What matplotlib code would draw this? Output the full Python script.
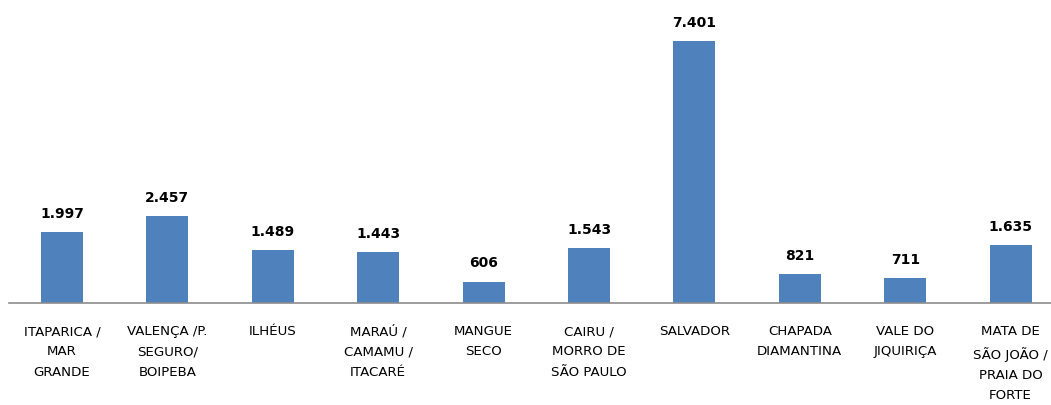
import matplotlib
matplotlib.use("Agg")
import matplotlib.pyplot as plt

categories = ["ITAPARICA /\nMAR\nGRANDE", "VALENÇA /P.\nSEGURO/\nBOIPEBA", "ILHÉUS",
              "MARAÚ /\nCAMAMU /\nITACARÉ", "MANGUE\nSECO", "CAIRU /\nMORRO DE\nSÃO PAULO",
              "SALVADOR", "CHAPADA\nDIAMANTINA", "VALE DO\nJIQUIRIÇA",
              "MATA DE\nSÃO JOÃO /\nPRAIA DO\nFORTE"]
values = [1997, 2457, 1489, 1443, 606, 1543, 7401, 821, 711, 1635]
value_labels = ["1.997", "2.457", "1.489", "1.443", "606", "1.543", "7.401", "821", "711", "1.635"]

W, H = 1051, 405
fig = plt.figure(figsize=(W / 100, H / 100), dpi=100)
left = 9.3 / W
width = 1054 / W
bottom = (H - 303) / H
ax = fig.add_axes([left, bottom, width, 303 / H])

x = list(range(len(values)))
ax.bar(x, values, width=0.4, color="#4f81bd", zorder=2)
ax.set_xlim(-0.5, 9.5)
ax.set_ylim(0, 7401 * 303 / 262)

for xi, v, lab in zip(x, values, value_labels):
    ax.annotate(lab, (xi, v), xytext=(0, 8), textcoords="offset points",
                ha="center", va="bottom", fontsize=10, fontweight="bold", color="#000000")

for s in ["top", "right", "left"]:
    ax.spines[s].set_visible(False)
ax.spines["bottom"].set_color("#8c8c8c")
ax.spines["bottom"].set_linewidth(1.2)
ax.set_yticks([])
ax.set_xticks(x)
ax.set_xticklabels(categories, fontsize=9.6, linespacing=1.72, color="#000000")
ax.tick_params(axis="x", length=0, pad=16)

fig.savefig("out.png", dpi=100)
